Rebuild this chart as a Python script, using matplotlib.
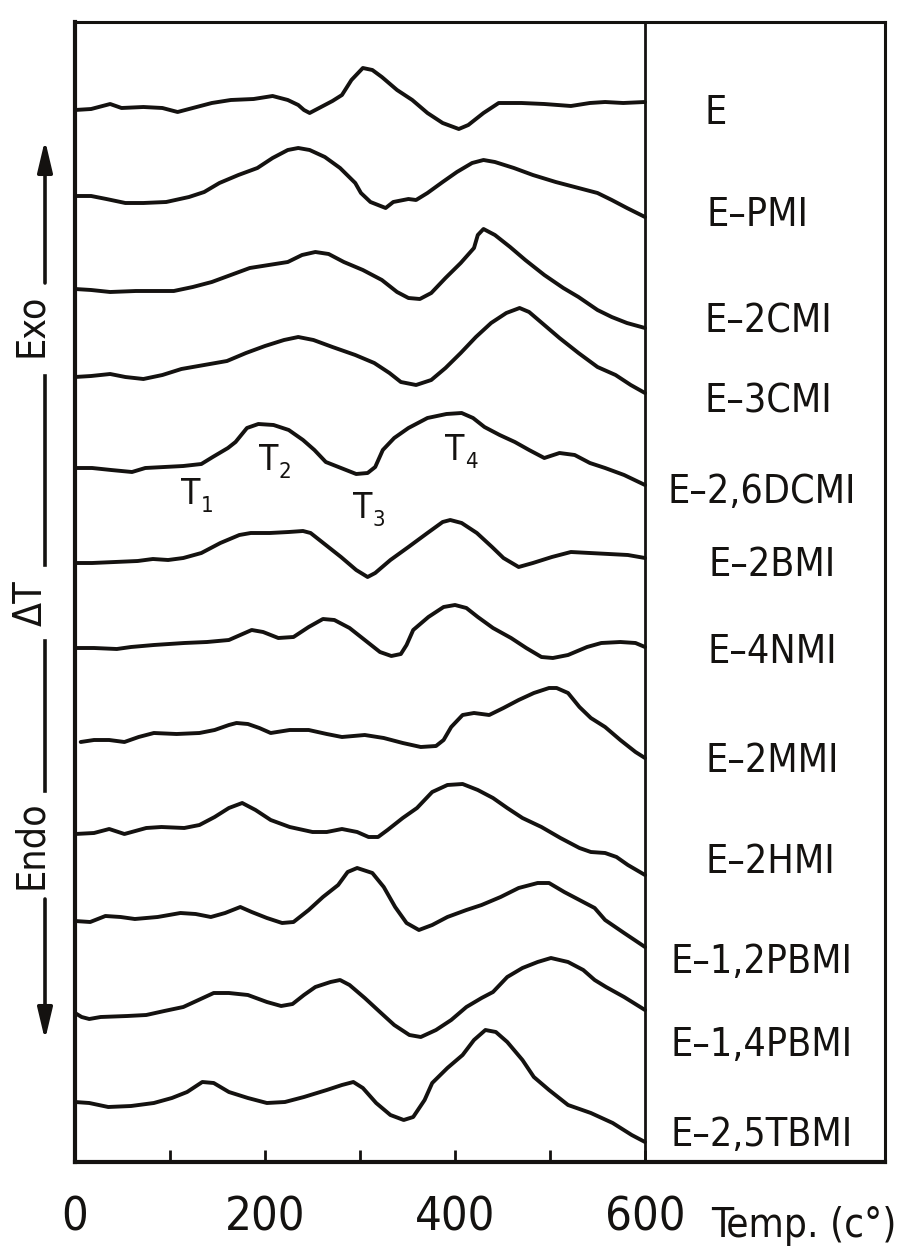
"""
DTA curves of epoxy / maleimide blends (E, E-PMI, ... E-2,5TBMI)
stacked Delta-T traces against temperature, with the sample names
in a side panel on the right.
"""

import matplotlib
matplotlib.use("Agg")
import matplotlib.pyplot as plt
from matplotlib import font_manager as fm
from matplotlib.lines import Line2D
from matplotlib.patches import FancyArrowPatch

# ------------------------------------------------------------
# data (temperature in °C, Delta-T level on the common stacked scale)
# ------------------------------------------------------------
E_T = [0, 17, 37, 49, 72, 92, 108, 124, 144, 164, 188, 208, 224, 235, 241, 247, 255, 271, 281,
       291, 303, 313, 323, 339, 355, 371, 387, 404, 414, 430, 446, 470, 494, 522, 542, 558, 577, 600]
E_DT = [1052, 1053, 1058, 1054, 1055, 1054, 1050, 1054, 1059, 1062, 1063, 1066, 1062, 1057, 1052, 1049,
        1053, 1061, 1067, 1082, 1094, 1092, 1085, 1072, 1062, 1049, 1039, 1033, 1037, 1049, 1059, 1059,
        1058, 1056, 1059, 1060, 1059, 1060]

PMI_T = [0, 17, 33, 53, 72, 96, 120, 136, 152, 172, 192, 208, 224, 235, 247, 263, 279, 295, 301,
         311, 327, 335, 351, 359, 371, 387, 402, 418, 430, 442, 462, 482, 506, 530, 550, 565, 581, 600]
PMI_DT = [966, 966, 963, 959, 959, 960, 965, 970, 979, 987, 994, 1004, 1012, 1014, 1012, 1005, 994,
          979, 969, 960, 954, 960, 963, 962, 969, 980, 990, 999, 1002, 1000, 994, 987, 980, 974, 969,
          962, 954, 945]

CMI2_T = [0, 17, 37, 64, 104, 124, 144, 164, 184, 204, 224, 239, 253, 267, 283, 303, 323, 339, 351,
          363, 375, 390, 406, 420, 424, 430, 442, 458, 474, 494, 514, 530, 550, 565, 581, 600]
CMI2_DT = [873, 872, 870, 871, 871, 875, 880, 887, 894, 897, 900, 907, 910, 908, 900, 892, 882, 870,
           864, 863, 869, 884, 899, 914, 927, 933, 927, 915, 902, 887, 874, 865, 852, 845, 839, 834]

CMI3_T = [0, 17, 37, 53, 72, 92, 112, 136, 160, 180, 200, 220, 235, 251, 271, 295, 315, 331, 343,
          359, 375, 390, 406, 422, 438, 454, 468, 478, 494, 510, 530, 550, 569, 585, 600]
CMI3_DT = [785, 786, 788, 785, 783, 787, 793, 797, 801, 809, 816, 822, 825, 822, 815, 807, 799, 789,
           780, 777, 782, 794, 809, 825, 839, 849, 854, 850, 837, 824, 809, 795, 787, 777, 769]

DCMI_T = [0, 18, 38, 60, 74, 94, 114, 133, 145, 161, 169, 181, 193, 209, 225, 240, 252, 264, 280, 296,
          308, 316, 324, 336, 351, 371, 391, 407, 419, 431, 447, 463, 478, 494, 510, 526, 542, 558, 578, 600]
DCMI_DT = [694, 694, 692, 690, 694, 695, 696, 698, 705, 714, 720, 734, 738, 737, 732, 722, 712, 700,
           694, 688, 689, 695, 712, 724, 734, 744, 748, 749, 744, 735, 727, 720, 712, 704, 709, 707,
           699, 694, 687, 677]

BMI2_T = [0, 18, 42, 66, 82, 98, 114, 133, 153, 173, 185, 205, 225, 240, 248, 264, 280, 296, 308,
          316, 332, 351, 371, 387, 395, 407, 423, 439, 451, 467, 482, 502, 522, 542, 562, 582, 600]
BMI2_DT = [599, 599, 600, 601, 603, 602, 604, 609, 619, 627, 629, 629, 630, 631, 629, 617, 605, 592,
           585, 589, 602, 615, 629, 640, 642, 639, 629, 615, 604, 595, 599, 605, 610, 609, 608, 607, 604]

NMI4_T = [0, 20, 44, 59, 83, 115, 139, 162, 174, 186, 198, 214, 230, 246, 261, 273, 289, 305, 321, 333,
          343, 349, 356, 372, 388, 400, 412, 424, 440, 459, 475, 491, 503, 519, 539, 554, 574, 590, 600]
NMI4_DT = [514, 514, 513, 515, 517, 519, 520, 522, 527, 532, 530, 524, 525, 535, 543, 542, 534, 522,
           510, 506, 508, 517, 532, 545, 555, 557, 554, 545, 534, 524, 514, 505, 504, 507, 515, 519,
           520, 519, 515]

MMI2_T = [6, 20, 36, 52, 67, 83, 107, 131, 147, 162, 170, 182, 194, 206, 226, 246, 265, 281, 305, 325,
          345, 364, 380, 388, 396, 408, 420, 436, 451, 467, 483, 499, 507, 519, 531, 543, 558, 574, 590, 600]
MMI2_DT = [420, 422, 422, 420, 425, 429, 428, 429, 432, 437, 439, 438, 434, 429, 432, 432, 428, 425,
           427, 424, 419, 415, 416, 422, 435, 447, 449, 447, 454, 462, 469, 474, 474, 469, 455, 444,
           435, 422, 410, 404]

HMI2_T = [0, 20, 36, 52, 75, 91, 115, 131, 147, 162, 176, 190, 206, 226, 250, 265, 281, 297, 309,
          319, 329, 345, 360, 376, 392, 408, 424, 440, 455, 471, 491, 511, 531, 543, 558, 570, 582, 600]
HMI2_DT = [328, 329, 333, 328, 334, 335, 334, 337, 345, 354, 359, 352, 342, 335, 330, 330, 333, 330,
           325, 325, 332, 344, 354, 370, 377, 378, 372, 364, 354, 344, 335, 324, 314, 310, 309, 305, 297, 287]

PBMI12_T = [0, 16, 32, 48, 63, 87, 111, 127, 143, 158, 174, 186, 202, 218, 230, 246, 261, 277, 287, 297,
            313, 325, 337, 349, 362, 376, 392, 412, 428, 448, 467, 487, 499, 515, 535, 547, 558, 578, 600]
PBMI12_DT = [241, 240, 246, 245, 243, 245, 249, 248, 245, 249, 255, 250, 244, 239, 240, 252, 265, 277,
             290, 294, 289, 275, 255, 239, 232, 237, 245, 252, 257, 265, 274, 279, 279, 270, 260, 254,
             242, 229, 215]

PBMI14_T = [0, 7, 15, 27, 55, 75, 94, 114, 130, 146, 162, 182, 202, 217, 229, 241, 253, 269, 279, 289,
            305, 321, 336, 352, 364, 380, 396, 412, 428, 440, 455, 471, 487, 501, 519, 535, 547, 559, 578, 600]
PBMI14_DT = [149, 145, 143, 145, 146, 147, 151, 155, 162, 169, 169, 167, 160, 156, 158, 167, 175, 180,
             182, 177, 164, 150, 137, 127, 125, 132, 142, 155, 164, 170, 185, 194, 200, 204, 200, 192,
             182, 175, 165, 152]

TBMI_T = [0, 15, 35, 59, 83, 102, 118, 134, 146, 162, 182, 202, 221, 241, 265, 281, 293, 303, 317,
          332, 346, 356, 368, 376, 392, 408, 420, 432, 443, 455, 471, 483, 499, 519, 543, 566, 586, 600]
TBMI_DT = [60, 59, 55, 56, 59, 64, 70, 80, 79, 70, 64, 59, 60, 65, 72, 77, 80, 74, 59, 47, 42, 45, 62,
           79, 94, 107, 122, 132, 130, 120, 102, 85, 72, 57, 49, 39, 27, 20]

SAMPLES = ["E", "E–PMI", "E–2CMI", "E–3CMI", "E–2,6DCMI", "E–2BMI", "E–4NMI",
           "E–2MMI", "E–2HMI", "E–1,2PBMI", "E–1,4PBMI", "E–2,5TBMI"]

# T1..T4 markers on the E-2,6DCMI trace
MARK_SUBS = ["1", "2", "3", "4"]
MARK_T = [122, 204, 303, 400]
MARK_DT = [668, 702, 654, 712]

X_TICKS = [0, 100, 200, 300, 400, 500, 600]
X_TICK_LABELS = ["0", "", "200", "", "400", "", "600"]

# ------------------------------------------------------------
# layout (pixel positions on the 900x1256 canvas)
# ------------------------------------------------------------
W, H = 900, 1256
INK = "#141210"
LABEL_XY = [(716, 113), (757, 215), (768, 321), (768, 401), (762, 492), (772, 565),
            (772, 652), (772, 761), (770, 862), (762, 962), (762, 1045), (762, 1135)]


def pick_font():
    """narrow / condensed sans if one is installed, else Roboto"""
    skip = ("bold", "italic", "oblique", "light", "thin", "extra", "semi", "black",
            "medium", "mono", "serif")
    for f in fm.fontManager.ttflist:
        n = f.fname.lower()
        if ("condensed" in n or "narrow" in n) and not any(k in n for k in skip):
            return fm.FontProperties(fname=f.fname)
    return fm.FontProperties(family="Roboto")


FP = pick_font()


def fpos(x, y):
    """canvas pixel -> figure fraction"""
    return x / W, 1 - y / H


fig = plt.figure(figsize=(W / 100, H / 100), dpi=100)
fig.patch.set_facecolor("white")

# scale all text so that the widest name is ~188 px, as on the original sheet
renderer = fig.canvas.get_renderer()
probe = fig.text(0, 0, "E–2,6DCMI", fontproperties=FP, fontsize=30)
K = 188 / probe.get_window_extent(renderer).width
probe.remove()

ax = fig.add_axes([75 / W, 94 / H, 810 / W, 1140 / H])
ax.set_xlim(0, 810 / 0.95)
ax.set_ylim(0, 1140)

curves = [(E_T, E_DT), (PMI_T, PMI_DT), (CMI2_T, CMI2_DT), (CMI3_T, CMI3_DT),
          (DCMI_T, DCMI_DT), (BMI2_T, BMI2_DT), (NMI4_T, NMI4_DT), (MMI2_T, MMI2_DT),
          (HMI2_T, HMI2_DT), (PBMI12_T, PBMI12_DT), (PBMI14_T, PBMI14_DT), (TBMI_T, TBMI_DT)]

for t, dt in curves:
    ax.plot(t, dt, color=INK, lw=2.8, solid_joinstyle="round", solid_capstyle="round")

for sub, t, dt in zip(MARK_SUBS, MARK_T, MARK_DT):
    ax.text(t, dt, "T", ha="center", va="center", fontproperties=FP,
            fontsize=27 * K, color=INK)
    ax.annotate(sub, (t, dt), xytext=(7, -9), textcoords="offset points",
                ha="left", va="center", fontproperties=FP, fontsize=17 * K, color=INK)

# divider between plot and name panel
ax.axvline(600, color=INK, lw=2)

for side, sp in ax.spines.items():
    sp.set_color(INK)
    sp.set_linewidth(3 if side in ("left", "bottom") else 2.2)

ax.set_xticks(X_TICKS, X_TICK_LABELS)
ax.set_yticks([])
ax.tick_params(axis="x", direction="in", length=9, width=2, color=INK,
               pad=24, labelcolor=INK)
for lab in ax.get_xticklabels():
    lab.set_fontproperties(FP)
    lab.set_fontsize(36 * K)

fig.text(*fpos(804, 1226), "Temp. (c°)", ha="center", va="center",
         fontproperties=FP, fontsize=31 * K, color=INK)

for name, (x, y) in zip(SAMPLES, LABEL_XY):
    fig.text(*fpos(x, y), name, ha="center", va="center", fontproperties=FP,
             fontsize=30 * K, color=INK)

# left: Exo / Delta T / Endo scale with arrows
LX = 45
for y1, y2 in [(376, 565), (641, 791)]:
    fig.add_artist(Line2D([LX / W, LX / W], [1 - y1 / H, 1 - y2 / H],
                          transform=fig.transFigure, color=INK, lw=2.6))
for y1, y2 in [(283, 140), (899, 1040)]:
    fig.add_artist(FancyArrowPatch(fpos(LX, y1), fpos(LX, y2), transform=fig.transFigure,
                                   arrowstyle="-|>,head_length=1.9,head_width=0.45",
                                   mutation_scale=10, lw=2.6, color=INK,
                                   shrinkA=0, shrinkB=0))
for txt, y in [("Exo", 325), ("ΔT", 603), ("Endo", 845)]:
    fig.text(*fpos(31, y), txt, rotation=90, ha="center", va="center",
             fontproperties=FP, fontsize=30 * K, color=INK)

fig.savefig("out.png", dpi=100, facecolor="white")
